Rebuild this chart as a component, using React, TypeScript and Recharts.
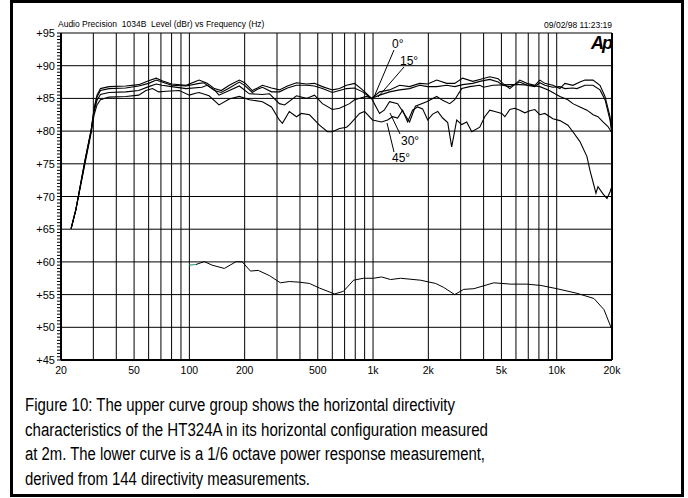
import React from 'react';
import { LineChart, Line, XAxis, YAxis, ReferenceLine } from 'recharts';

type P = { f: number; v: number };
const pts = (a: number[][]): P[] => a.map(([f, v]) => ({ f, v }));

// X grid ticks (Hz) and labels
const xTicks = [20, 30, 40, 50, 60, 70, 80, 90, 100, 200, 300, 400, 500, 600, 700, 800, 900, 1000, 2000, 3000, 4000, 5000, 6000, 7000, 8000, 9000, 10000, 20000];
const xLabels: Record<number, string> = { 20: '20', 50: '50', 100: '100', 200: '200', 500: '500', 1000: '1k', 2000: '2k', 5000: '5k', 10000: '10k', 20000: '20k' };
// Y major ticks (dB) and minor ruler ticks
const yMajor = [45, 50, 55, 60, 65, 70, 75, 80, 85, 90, 95];
const yMinor = Array.from({ length: 101 }, (_, i) => 45 + i * 0.5);

const deg0 = pts([
  [22.7, 65.1], [24.1, 68.0], [27.0, 75.5], [29.2, 80.2], [30.3, 83.5], [31.4, 85.5], [32.8, 86.5], [36.5, 86.8], [45, 86.9], [53, 87.1],
  [60, 87.7], [66, 88.1], [71, 87.7], [80, 87.2], [96, 87.0], [113, 87.8], [125, 87.3], [137, 86.5], [149, 86.2], [165, 87.0],
  [187, 87.8], [200, 87.4], [220, 86.2], [235, 86.6], [250, 87.0], [280, 86.6], [309, 86.3], [342, 86.9], [383, 87.4], [434, 87.2],
  [480, 87.3], [530, 86.8], [601, 86.3], [657, 86.5], [717, 87.0], [793, 87.3], [877, 86.3], [982, 85.0], [1085, 86.0], [1230, 86.3],
  [1396, 87.0], [1581, 86.8], [1794, 87.3], [1984, 87.2], [2222, 87.8], [2518, 87.3], [2784, 87.3], [3076, 88.1], [3490, 87.6], [3811, 87.9],
  [4322, 88.3], [4800, 88.0], [5088, 87.3], [5554, 86.5], [6000, 87.3], [6295, 87.8], [6879, 87.3], [7603, 87.0], [8092, 87.8], [8620, 87.3],
  [9528, 87.0], [10410, 86.5], [11080, 87.3], [12248, 87.0], [13382, 87.5], [14248, 87.8], [15756, 87.8], [17200, 87.0], [18324, 85.3], [19500, 82.2],
  [20000, 79.7],
]);

const deg15 = pts([
  [22.7, 65.1], [24.1, 68.0], [27.0, 75.5], [29.2, 80.2], [30.3, 83.3], [31.4, 85.2], [32.8, 86.2], [36.5, 86.5], [45, 86.6], [53, 86.9],
  [60, 87.3], [66, 87.8], [71, 87.5], [80, 87.0], [96, 86.9], [113, 87.3], [120, 87.4], [137, 86.2], [149, 85.9], [165, 86.6],
  [187, 87.5], [200, 87.0], [220, 85.9], [235, 86.4], [250, 86.7], [280, 86.0], [309, 86.0], [342, 86.6], [383, 87.0], [434, 87.0],
  [480, 86.9], [530, 86.5], [601, 85.9], [657, 86.2], [717, 86.5], [793, 86.6], [877, 86.0], [982, 85.0], [1085, 85.5], [1230, 86.0],
  [1396, 86.3], [1581, 86.5], [1794, 87.0], [1984, 86.8], [2222, 86.8], [2518, 87.0], [2784, 86.8], [3076, 87.1], [3490, 87.3], [3811, 87.6],
  [4322, 87.9], [4800, 87.5], [5088, 87.0], [5554, 86.8], [6295, 87.5], [6879, 87.0], [7603, 86.8], [8092, 87.4], [8620, 87.0], [9528, 86.7],
  [10410, 86.8], [11080, 86.5], [12248, 86.6], [12884, 86.5], [14248, 87.0], [15756, 87.0], [17200, 86.3], [18324, 84.8], [19500, 81.7], [20000, 79.7],
]);

const deg30 = pts([
  [22.7, 65.1], [24.1, 68.0], [27.0, 75.3], [29.2, 80.0], [30.3, 83.0], [31.4, 84.7], [32.8, 85.6], [36.5, 85.9], [45, 86.0], [53, 86.2],
  [60, 86.8], [66, 87.2], [71, 87.0], [80, 86.8], [96, 86.5], [117, 86.7], [125, 87.0], [137, 86.3], [145, 85.5], [165, 86.2],
  [187, 86.9], [212, 85.7], [250, 85.6], [273, 85.7], [309, 84.2], [330, 84.0], [383, 85.4], [434, 85.0], [480, 85.5], [530, 84.2],
  [601, 83.3], [657, 83.5], [745, 84.2], [793, 84.8], [922, 85.3], [982, 85.0], [1085, 82.7], [1150, 83.2], [1230, 84.5], [1361, 84.2],
  [1581, 81.4], [1700, 83.8], [1958, 84.5], [2222, 85.3], [2394, 84.7], [2615, 84.2], [2784, 84.8], [3040, 86.5], [3362, 86.8], [3811, 87.0],
  [4000, 86.7], [4500, 87.0], [5554, 87.1], [6295, 87.1], [7140, 87.0], [8092, 86.8], [9000, 86.3], [10410, 85.3], [11500, 84.8], [12248, 84.2],
  [13382, 83.7], [14610, 83.2], [15800, 82.5], [16774, 82.2], [17864, 81.4], [19012, 80.7], [20000, 79.7],
]);

const deg45 = pts([
  [22.7, 65.1], [24.1, 68.0], [27.0, 75.0], [29.2, 79.8], [30.3, 82.5], [31.4, 84.0], [32.8, 84.8], [36.5, 85.2], [45, 85.3], [53, 85.5],
  [58, 86.2], [63, 86.5], [68, 86.0], [75, 86.1], [88, 86.2], [100, 85.5], [108, 85.8], [113, 85.9], [128, 85.4], [145, 84.0],
  [165, 84.9], [187, 85.3], [212, 84.8], [250, 84.5], [280, 83.7], [309, 81.7], [321, 81.2], [350, 83.0], [383, 82.2], [407, 82.7],
  [451, 82.5], [511, 80.9], [565, 79.9], [601, 79.9], [657, 80.4], [717, 80.6], [745, 81.0], [845, 82.7], [899, 83.0], [993, 81.7],
  [1113, 81.4], [1200, 81.7], [1278, 82.2], [1361, 82.0], [1449, 83.2], [1542, 81.4], [1642, 83.2], [1749, 83.7], [1862, 83.4], [1984, 81.7],
  [2112, 82.6], [2250, 83.0], [2394, 82.0], [2550, 81.3], [2680, 77.6], [2855, 81.7], [3040, 81.0], [3236, 81.4], [3448, 79.9], [3811, 80.6],
  [4056, 82.2], [4322, 83.2], [4603, 83.0], [5024, 82.7], [5218, 82.2], [5554, 83.3], [5916, 83.5], [6295, 83.2], [6707, 82.8], [7140, 83.1],
  [7603, 83.3], [8092, 82.5], [8620, 82.7], [9528, 81.9], [10410, 81.6], [11508, 80.9], [12248, 79.9], [13382, 78.4], [14610, 76.1], [15172, 74.0],
  [16358, 70.5], [16774, 71.5], [17864, 70.4], [18780, 69.7], [19500, 70.7], [20000, 71.6],
]);

const powerStart = pts([[100, 59.5], [108.6, 59.6]]);
const power = pts([
  [108.6, 59.6], [120.5, 60.05], [133, 59.5], [155, 59.0], [180, 60.05], [194, 60.0], [215, 58.6], [237, 58.7], [273, 57.9], [313, 56.8],
  [350, 57.0], [397, 56.9], [451, 56.7], [511, 56.0], [617, 55.1], [690, 55.5], [783, 57.2], [887, 57.5], [1006, 57.5], [1113, 57.7],
  [1246, 57.3], [1412, 57.5], [1816, 57.2], [2193, 56.7], [2424, 56.1], [2784, 55.0], [3116, 55.8], [3536, 55.9], [4545, 56.8], [5623, 56.6],
  [6879, 56.6], [8200, 56.4], [10023, 55.9], [12884, 55.2], [15954, 54.4], [18088, 52.7], [20000, 49.6],
]);

const captionLines = [
  'Figure 10: The upper curve group shows the horizontal directivity',
  'characteristics of the HT324A in its horizontal configuration measured',
  'at 2m. The lower curve is a 1/6 octave power response measurement,',
  'derived from 144 directivity measurements.',
];
const captionWidths = [430, 463, 460, 285];

const FONT = '"Liberation Sans", Arial, Helvetica, sans-serif';

const YTick = (props: any) => {
  const { x, y, payload } = props;
  const v = payload.value as number;
  if (Math.abs(v - Math.round(v / 5) * 5) > 1e-6) return null;
  return (
    <text x={x} y={y} dy={4} textAnchor="end" fontSize={11} fill="#000" fontFamily={FONT}>
      {'+' + v}
    </text>
  );
};

const XTick = (props: any) => {
  const { x, y, payload } = props;
  const label = xLabels[payload.value as number];
  if (!label) return null;
  return (
    <text x={x} y={y} dy={14} textAnchor="middle" fontSize={10.5} fill="#000" fontFamily={FONT}>
      {label}
    </text>
  );
};

const lineCommon = { dataKey: 'v', dot: false, activeDot: false, isAnimationActive: false, type: 'linear' as const };

export default function App() {
  return (
    <div style={{ position: 'absolute', left: 0, top: 0, width: 688, height: 498, background: '#fff' }}>
      <LineChart width={688} height={498} margin={{ top: 33, right: 76, bottom: 118, left: 0 }}>
        <XAxis
          dataKey="f"
          type="number"
          scale="log"
          domain={[20, 20000]}
          allowDataOverflow
          ticks={xTicks}
          interval={0}
          height={20}
          tickLine={false}
          tickSize={0}
          tickMargin={0}
          axisLine={{ stroke: '#000', strokeWidth: 2 }}
          tick={<XTick />}
        />
        <YAxis
          type="number"
          domain={[45, 95]}
          allowDataOverflow
          ticks={yMinor}
          interval={0}
          width={61}
          tickSize={4}
          tickMargin={2}
          tickLine={{ stroke: '#000' }}
          axisLine={{ stroke: '#000', strokeWidth: 2 }}
          tick={<YTick />}
        />
        {xTicks.slice(1, -1).map((t) => (
          <ReferenceLine key={'vx' + t} x={t} stroke="#000" strokeWidth={1} />
        ))}
        {yMajor.slice(1).map((t) => (
          <ReferenceLine key={'hy' + t} y={t} stroke="#000" strokeWidth={1} />
        ))}
        <ReferenceLine x={20000} stroke="#000" strokeWidth={2} />
        <Line {...lineCommon} data={deg45} stroke="#000" strokeWidth={1.1} />
        <Line {...lineCommon} data={deg30} stroke="#000" strokeWidth={1.1} />
        <Line {...lineCommon} data={deg15} stroke="#000" strokeWidth={1.1} />
        <Line {...lineCommon} data={deg0} stroke="#000" strokeWidth={1.1} />
        <Line {...lineCommon} data={power} stroke="#000" strokeWidth={1} />
        <Line {...lineCommon} data={powerStart} stroke="#2e9e80" strokeWidth={1.2} />
      </LineChart>
      <svg width={688} height={498} style={{ position: 'absolute', left: 0, top: 0, pointerEvents: 'none' }}>
        <rect x={11.5} y={1.5} width={671} height={494} fill="none" stroke="#000" strokeWidth={3} />
        <text x={58} y={27} fontSize={8.5} fontFamily={FONT} fill="#000" style={{ whiteSpace: 'pre' }}>
          {'Audio Precision  1034B  Level (dBr) vs Frequency (Hz)'}
        </text>
        <text x={612} y={28} fontSize={8.5} fontFamily={FONT} fill="#000" textAnchor="end">
          09/02/98 11:23:19
        </text>
        <text x={611} y={49} fontSize={18} fontWeight={900} fontStyle="italic" fontFamily={FONT} fill="#000" textAnchor="end" letterSpacing={-2}>
          Ap
        </text>
        <text x={392} y={48} fontSize={12} fontFamily={FONT} fill="#000">0°</text>
        <text x={400} y={65} fontSize={12} fontFamily={FONT} fill="#000">15°</text>
        <text x={401} y={145} fontSize={12} fontFamily={FONT} fill="#000">30°</text>
        <text x={392} y={162} fontSize={12} fontFamily={FONT} fill="#000">45°</text>
        <line x1={394} y1={50} x2={374} y2={97} stroke="#000" strokeWidth={1} />
        <line x1={404} y1={67} x2={378} y2={97} stroke="#000" strokeWidth={1} />
        <line x1={400} y1={134} x2={390} y2={113} stroke="#000" strokeWidth={1} />
        <line x1={394} y1={152} x2={387} y2={123} stroke="#000" strokeWidth={1} />
        {captionLines.map((t, i) => (
          <text
            key={i}
            x={25}
            y={411 + i * 24.6}
            fontSize={18}
            fontFamily={FONT}
            fill="#000"
            textLength={captionWidths[i]}
            lengthAdjust="spacingAndGlyphs"
          >
            {t}
          </text>
        ))}
      </svg>
    </div>
  );
}
